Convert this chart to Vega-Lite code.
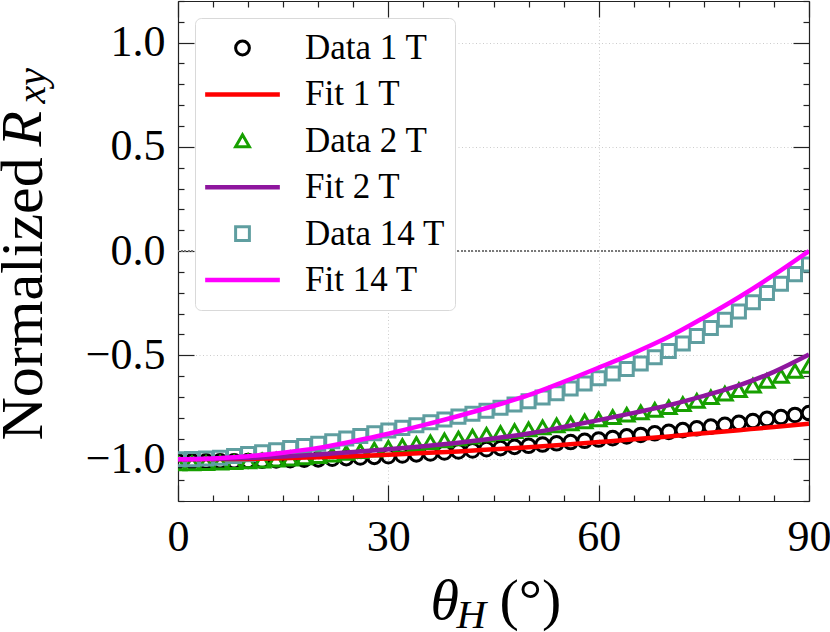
{
  "$schema": "https://vega.github.io/schema/vega-lite/v6.json",
  "width": 631,
  "height": 500,
  "autosize": {"type": "none"},
  "padding": {"left": 178, "top": 1, "right": 21, "bottom": 131},
  "background": "white",
  "data": {
    "values": [
      {"series": "Data 1 T", "theta": 0, "value": -1.010}, {"series": "Data 1 T", "theta": 2, "value": -1.010},
      {"series": "Data 1 T", "theta": 4, "value": -1.010}, {"series": "Data 1 T", "theta": 6, "value": -1.009},
      {"series": "Data 1 T", "theta": 8, "value": -1.009}, {"series": "Data 1 T", "theta": 10, "value": -1.008},
      {"series": "Data 1 T", "theta": 12, "value": -1.007}, {"series": "Data 1 T", "theta": 14, "value": -1.005},
      {"series": "Data 1 T", "theta": 16, "value": -1.004}, {"series": "Data 1 T", "theta": 18, "value": -1.002},
      {"series": "Data 1 T", "theta": 20, "value": -1.000}, {"series": "Data 1 T", "theta": 22, "value": -0.997},
      {"series": "Data 1 T", "theta": 24, "value": -0.994}, {"series": "Data 1 T", "theta": 26, "value": -0.991},
      {"series": "Data 1 T", "theta": 28, "value": -0.988}, {"series": "Data 1 T", "theta": 30, "value": -0.985},
      {"series": "Data 1 T", "theta": 32, "value": -0.981}, {"series": "Data 1 T", "theta": 34, "value": -0.976},
      {"series": "Data 1 T", "theta": 36, "value": -0.972}, {"series": "Data 1 T", "theta": 38, "value": -0.967},
      {"series": "Data 1 T", "theta": 40, "value": -0.962}, {"series": "Data 1 T", "theta": 42, "value": -0.957},
      {"series": "Data 1 T", "theta": 44, "value": -0.951}, {"series": "Data 1 T", "theta": 46, "value": -0.946},
      {"series": "Data 1 T", "theta": 48, "value": -0.940}, {"series": "Data 1 T", "theta": 50, "value": -0.935},
      {"series": "Data 1 T", "theta": 52, "value": -0.929}, {"series": "Data 1 T", "theta": 54, "value": -0.923},
      {"series": "Data 1 T", "theta": 56, "value": -0.917}, {"series": "Data 1 T", "theta": 58, "value": -0.911},
      {"series": "Data 1 T", "theta": 60, "value": -0.905}, {"series": "Data 1 T", "theta": 62, "value": -0.898},
      {"series": "Data 1 T", "theta": 64, "value": -0.890}, {"series": "Data 1 T", "theta": 66, "value": -0.883},
      {"series": "Data 1 T", "theta": 68, "value": -0.875}, {"series": "Data 1 T", "theta": 70, "value": -0.868},
      {"series": "Data 1 T", "theta": 72, "value": -0.860}, {"series": "Data 1 T", "theta": 74, "value": -0.851},
      {"series": "Data 1 T", "theta": 76, "value": -0.843}, {"series": "Data 1 T", "theta": 78, "value": -0.834},
      {"series": "Data 1 T", "theta": 80, "value": -0.825}, {"series": "Data 1 T", "theta": 82, "value": -0.816},
      {"series": "Data 1 T", "theta": 84, "value": -0.806}, {"series": "Data 1 T", "theta": 86, "value": -0.797},
      {"series": "Data 1 T", "theta": 88, "value": -0.787}, {"series": "Data 1 T", "theta": 90, "value": -0.778},

      {"series": "Data 2 T", "theta": 0, "value": -1.020}, {"series": "Data 2 T", "theta": 2, "value": -1.019},
      {"series": "Data 2 T", "theta": 4, "value": -1.018}, {"series": "Data 2 T", "theta": 6, "value": -1.016},
      {"series": "Data 2 T", "theta": 8, "value": -1.013}, {"series": "Data 2 T", "theta": 10, "value": -1.010},
      {"series": "Data 2 T", "theta": 12, "value": -1.006}, {"series": "Data 2 T", "theta": 14, "value": -1.002},
      {"series": "Data 2 T", "theta": 16, "value": -0.997}, {"series": "Data 2 T", "theta": 18, "value": -0.991},
      {"series": "Data 2 T", "theta": 20, "value": -0.985}, {"series": "Data 2 T", "theta": 22, "value": -0.977},
      {"series": "Data 2 T", "theta": 24, "value": -0.969}, {"series": "Data 2 T", "theta": 26, "value": -0.961},
      {"series": "Data 2 T", "theta": 28, "value": -0.953}, {"series": "Data 2 T", "theta": 30, "value": -0.945},
      {"series": "Data 2 T", "theta": 32, "value": -0.936}, {"series": "Data 2 T", "theta": 34, "value": -0.927},
      {"series": "Data 2 T", "theta": 36, "value": -0.918}, {"series": "Data 2 T", "theta": 38, "value": -0.909},
      {"series": "Data 2 T", "theta": 40, "value": -0.900}, {"series": "Data 2 T", "theta": 42, "value": -0.891},
      {"series": "Data 2 T", "theta": 44, "value": -0.882}, {"series": "Data 2 T", "theta": 46, "value": -0.874},
      {"series": "Data 2 T", "theta": 48, "value": -0.865}, {"series": "Data 2 T", "theta": 50, "value": -0.856},
      {"series": "Data 2 T", "theta": 52, "value": -0.847}, {"series": "Data 2 T", "theta": 54, "value": -0.837},
      {"series": "Data 2 T", "theta": 56, "value": -0.828}, {"series": "Data 2 T", "theta": 58, "value": -0.818},
      {"series": "Data 2 T", "theta": 60, "value": -0.808}, {"series": "Data 2 T", "theta": 62, "value": -0.797},
      {"series": "Data 2 T", "theta": 64, "value": -0.786}, {"series": "Data 2 T", "theta": 66, "value": -0.775},
      {"series": "Data 2 T", "theta": 68, "value": -0.763}, {"series": "Data 2 T", "theta": 70, "value": -0.750},
      {"series": "Data 2 T", "theta": 72, "value": -0.735}, {"series": "Data 2 T", "theta": 74, "value": -0.719},
      {"series": "Data 2 T", "theta": 76, "value": -0.702}, {"series": "Data 2 T", "theta": 78, "value": -0.685},
      {"series": "Data 2 T", "theta": 80, "value": -0.668}, {"series": "Data 2 T", "theta": 82, "value": -0.646},
      {"series": "Data 2 T", "theta": 84, "value": -0.623}, {"series": "Data 2 T", "theta": 86, "value": -0.600},
      {"series": "Data 2 T", "theta": 88, "value": -0.576}, {"series": "Data 2 T", "theta": 90, "value": -0.552},

      {"series": "Data 14 T", "theta": 0, "value": -1.000}, {"series": "Data 14 T", "theta": 2, "value": -0.999},
      {"series": "Data 14 T", "theta": 4, "value": -0.996}, {"series": "Data 14 T", "theta": 6, "value": -0.992},
      {"series": "Data 14 T", "theta": 8, "value": -0.984}, {"series": "Data 14 T", "theta": 10, "value": -0.975},
      {"series": "Data 14 T", "theta": 12, "value": -0.966}, {"series": "Data 14 T", "theta": 14, "value": -0.956},
      {"series": "Data 14 T", "theta": 16, "value": -0.946}, {"series": "Data 14 T", "theta": 18, "value": -0.936},
      {"series": "Data 14 T", "theta": 20, "value": -0.925}, {"series": "Data 14 T", "theta": 22, "value": -0.913},
      {"series": "Data 14 T", "theta": 24, "value": -0.900}, {"series": "Data 14 T", "theta": 26, "value": -0.888},
      {"series": "Data 14 T", "theta": 28, "value": -0.875}, {"series": "Data 14 T", "theta": 30, "value": -0.862},
      {"series": "Data 14 T", "theta": 32, "value": -0.849}, {"series": "Data 14 T", "theta": 34, "value": -0.836},
      {"series": "Data 14 T", "theta": 36, "value": -0.822}, {"series": "Data 14 T", "theta": 38, "value": -0.809},
      {"series": "Data 14 T", "theta": 40, "value": -0.795}, {"series": "Data 14 T", "theta": 42, "value": -0.781},
      {"series": "Data 14 T", "theta": 44, "value": -0.767}, {"series": "Data 14 T", "theta": 46, "value": -0.752},
      {"series": "Data 14 T", "theta": 48, "value": -0.737}, {"series": "Data 14 T", "theta": 50, "value": -0.721},
      {"series": "Data 14 T", "theta": 52, "value": -0.703}, {"series": "Data 14 T", "theta": 54, "value": -0.683},
      {"series": "Data 14 T", "theta": 56, "value": -0.660}, {"series": "Data 14 T", "theta": 58, "value": -0.636},
      {"series": "Data 14 T", "theta": 60, "value": -0.611}, {"series": "Data 14 T", "theta": 62, "value": -0.588},
      {"series": "Data 14 T", "theta": 64, "value": -0.566}, {"series": "Data 14 T", "theta": 66, "value": -0.540},
      {"series": "Data 14 T", "theta": 68, "value": -0.510}, {"series": "Data 14 T", "theta": 70, "value": -0.480},
      {"series": "Data 14 T", "theta": 72, "value": -0.444}, {"series": "Data 14 T", "theta": 74, "value": -0.408},
      {"series": "Data 14 T", "theta": 76, "value": -0.370}, {"series": "Data 14 T", "theta": 78, "value": -0.330},
      {"series": "Data 14 T", "theta": 80, "value": -0.290}, {"series": "Data 14 T", "theta": 82, "value": -0.246},
      {"series": "Data 14 T", "theta": 84, "value": -0.202}, {"series": "Data 14 T", "theta": 86, "value": -0.157},
      {"series": "Data 14 T", "theta": 88, "value": -0.111}, {"series": "Data 14 T", "theta": 90, "value": -0.065},

      {"series": "Fit 1 T", "theta": 0, "value": -1.000}, {"series": "Fit 1 T", "theta": 5, "value": -0.999},
      {"series": "Fit 1 T", "theta": 10, "value": -0.998}, {"series": "Fit 1 T", "theta": 15, "value": -0.995},
      {"series": "Fit 1 T", "theta": 20, "value": -0.990}, {"series": "Fit 1 T", "theta": 25, "value": -0.985},
      {"series": "Fit 1 T", "theta": 30, "value": -0.978}, {"series": "Fit 1 T", "theta": 35, "value": -0.970},
      {"series": "Fit 1 T", "theta": 40, "value": -0.962}, {"series": "Fit 1 T", "theta": 45, "value": -0.952},
      {"series": "Fit 1 T", "theta": 50, "value": -0.942}, {"series": "Fit 1 T", "theta": 55, "value": -0.930},
      {"series": "Fit 1 T", "theta": 60, "value": -0.917}, {"series": "Fit 1 T", "theta": 65, "value": -0.904},
      {"series": "Fit 1 T", "theta": 70, "value": -0.890}, {"series": "Fit 1 T", "theta": 75, "value": -0.875},
      {"series": "Fit 1 T", "theta": 80, "value": -0.860}, {"series": "Fit 1 T", "theta": 85, "value": -0.845},
      {"series": "Fit 1 T", "theta": 90, "value": -0.829},

      {"series": "Fit 2 T", "theta": 0, "value": -1.000}, {"series": "Fit 2 T", "theta": 5, "value": -0.998},
      {"series": "Fit 2 T", "theta": 10, "value": -0.994}, {"series": "Fit 2 T", "theta": 15, "value": -0.987},
      {"series": "Fit 2 T", "theta": 20, "value": -0.977}, {"series": "Fit 2 T", "theta": 25, "value": -0.965},
      {"series": "Fit 2 T", "theta": 30, "value": -0.952}, {"series": "Fit 2 T", "theta": 35, "value": -0.937},
      {"series": "Fit 2 T", "theta": 40, "value": -0.920}, {"series": "Fit 2 T", "theta": 45, "value": -0.900},
      {"series": "Fit 2 T", "theta": 50, "value": -0.876}, {"series": "Fit 2 T", "theta": 55, "value": -0.845},
      {"series": "Fit 2 T", "theta": 60, "value": -0.812}, {"series": "Fit 2 T", "theta": 65, "value": -0.777},
      {"series": "Fit 2 T", "theta": 70, "value": -0.740}, {"series": "Fit 2 T", "theta": 75, "value": -0.695},
      {"series": "Fit 2 T", "theta": 80, "value": -0.645}, {"series": "Fit 2 T", "theta": 85, "value": -0.580},
      {"series": "Fit 2 T", "theta": 90, "value": -0.497},

      {"series": "Fit 14 T", "theta": 0, "value": -1.000}, {"series": "Fit 14 T", "theta": 5, "value": -0.996},
      {"series": "Fit 14 T", "theta": 10, "value": -0.985}, {"series": "Fit 14 T", "theta": 15, "value": -0.968},
      {"series": "Fit 14 T", "theta": 20, "value": -0.945}, {"series": "Fit 14 T", "theta": 25, "value": -0.913},
      {"series": "Fit 14 T", "theta": 30, "value": -0.877}, {"series": "Fit 14 T", "theta": 35, "value": -0.836},
      {"series": "Fit 14 T", "theta": 40, "value": -0.792}, {"series": "Fit 14 T", "theta": 45, "value": -0.744},
      {"series": "Fit 14 T", "theta": 50, "value": -0.692}, {"series": "Fit 14 T", "theta": 55, "value": -0.628},
      {"series": "Fit 14 T", "theta": 60, "value": -0.560}, {"series": "Fit 14 T", "theta": 65, "value": -0.490},
      {"series": "Fit 14 T", "theta": 70, "value": -0.412}, {"series": "Fit 14 T", "theta": 75, "value": -0.320},
      {"series": "Fit 14 T", "theta": 80, "value": -0.222}, {"series": "Fit 14 T", "theta": 85, "value": -0.115},
      {"series": "Fit 14 T", "theta": 90, "value": 0.000}
    ]
  },
  "layer": [
    {
      "mark": {"type": "rule", "color": "#7a7a7a", "strokeDash": [1.5, 2], "strokeWidth": 1.2},
      "encoding": {
        "y": {"datum": 0, "type": "quantitative", "scale": {"domain": [-1.2, 1.2], "nice": false, "zero": false}, "axis": null}
      }
    },
    {
      "transform": [{"filter": "datum.series === 'Data 1 T'"}],
      "mark": {"type": "point", "filled": false, "opacity": 1, "strokeWidth": 3, "size": 185, "clip": true},
      "encoding": {
        "x": {
          "field": "theta", "type": "quantitative",
          "scale": {"domain": [0, 90], "nice": false, "zero": false},
          "axis": {
            "orient": "bottom",
            "values": [0, 5, 10, 15, 20, 25, 30, 35, 40, 45, 50, 55, 60, 65, 70, 75, 80, 85, 90],
            "grid": true,
            "gridOpacity": {"condition": {"test": "datum.value === 30 || datum.value === 60", "value": 1}, "value": 0},
            "tickSize": {"condition": {"test": "datum.value % 30 === 0", "value": -16}, "value": -6},
            "labelExpr": "datum.value % 30 === 0 ? datum.label : ''",
            "labelPadding": 30,
            "labelFontSize": 44,
            "labelFlush": false,
            "labelOverlap": false,
            "title": "θ",
            "titleFontStyle": "italic",
            "titleFontSize": 58,
            "titleX": 252,
            "titleY": 117,
            "titleAlign": "left",
            "titleBaseline": "alphabetic"
          }
        },
        "y": {
          "field": "value", "type": "quantitative",
          "scale": {"domain": [-1.2, 1.2], "nice": false, "zero": false},
          "axis": {
            "orient": "left",
            "values": [-1.2, -1.1, -1, -0.9, -0.8, -0.7, -0.6, -0.5, -0.4, -0.3, -0.2, -0.1, 0, 0.1, 0.2, 0.3, 0.4, 0.5, 0.6, 0.7, 0.8, 0.9, 1, 1.1, 1.2],
            "format": ".1f",
            "grid": true,
            "gridOpacity": {"condition": {"test": "abs(datum.value) < 1.05 && abs(datum.value * 2 - round(datum.value * 2)) < 0.001", "value": 1}, "value": 0},
            "tickSize": {"condition": {"test": "abs(datum.value) < 1.05 && abs(datum.value * 2 - round(datum.value * 2)) < 0.001", "value": -16}, "value": -6},
            "labelExpr": "abs(datum.value) < 1.05 && abs(datum.value * 2 - round(datum.value * 2)) < 0.001 ? datum.label : ''",
            "labelPadding": 29,
            "labelFontSize": 44,
            "labelFlush": false,
            "labelOverlap": false,
            "title": "Normalized",
            "titleFontSize": 60,
            "titleAngle": -90,
            "titleX": -137,
            "titleY": 439,
            "titleAlign": "left",
            "titleBaseline": "alphabetic"
          }
        },
        "color": {
          "field": "series", "type": "nominal",
          "scale": {
            "domain": ["Data 1 T", "Fit 1 T", "Data 2 T", "Fit 2 T", "Data 14 T", "Fit 14 T"],
            "range": ["#000000", "#ff0000", "#17a000", "#8e169e", "#5f9ea0", "#ff00ff"]
          },
          "legend": {"title": null}
        },
        "shape": {
          "field": "series", "type": "nominal",
          "scale": {
            "domain": ["Data 1 T", "Fit 1 T", "Data 2 T", "Fit 2 T", "Data 14 T", "Fit 14 T"],
            "range": ["circle", "M-5.2,-0.11H5.2V0.11H-5.2Z", "triangle-up", "M-5.2,-0.11H5.2V0.11H-5.2Z", "square", "M-5.2,-0.11H5.2V0.11H-5.2Z"]
          },
          "legend": {"title": null}
        }
      }
    },
    {
      "transform": [{"filter": "datum.series === 'Data 2 T'"}],
      "mark": {"type": "point", "filled": false, "opacity": 1, "strokeWidth": 3, "size": 215, "clip": true},
      "encoding": {
        "x": {
          "field": "theta", "type": "quantitative",
          "axis": {
            "orient": "bottom", "ticks": false, "labels": false, "domain": false, "grid": false,
            "title": "H", "titleFontStyle": "italic", "titleFontSize": 41,
            "titleX": 278, "titleY": 126, "titleAlign": "left", "titleBaseline": "alphabetic"
          }
        },
        "y": {
          "field": "value", "type": "quantitative",
          "axis": {
            "orient": "left", "ticks": false, "labels": false, "domain": false, "grid": false,
            "title": "R", "titleFontStyle": "italic", "titleFontSize": 58, "titleAngle": -90,
            "titleX": -138, "titleY": 145, "titleAlign": "left", "titleBaseline": "alphabetic"
          }
        },
        "color": {"field": "series", "type": "nominal", "legend": null},
        "shape": {"field": "series", "type": "nominal", "legend": null}
      }
    },
    {
      "transform": [{"filter": "datum.series === 'Data 14 T'"}],
      "mark": {"type": "point", "filled": false, "opacity": 1, "strokeWidth": 3, "size": 170, "clip": true},
      "encoding": {
        "x": {"field": "theta", "type": "quantitative", "axis": null},
        "y": {"field": "value", "type": "quantitative", "axis": null},
        "color": {"field": "series", "type": "nominal", "legend": null},
        "shape": {"field": "series", "type": "nominal", "legend": null}
      }
    },
    {
      "transform": [{"filter": "indexof(datum.series, 'Fit') === 0"}],
      "mark": {"type": "line", "strokeWidth": 4.5, "interpolate": "monotone", "clip": true},
      "encoding": {
        "x": {
          "field": "theta", "type": "quantitative",
          "axis": {
            "orient": "top",
            "values": [0, 5, 10, 15, 20, 25, 30, 35, 40, 45, 50, 55, 60, 65, 70, 75, 80, 85, 90],
            "grid": false,
            "labels": false,
            "tickSize": {"condition": {"test": "datum.value % 30 === 0", "value": -16}, "value": -6},
            "title": "(°)",
            "titleFontSize": 58,
            "titleAngle": 0,
            "titleX": 321,
            "titleY": 617,
            "titleAlign": "left",
            "titleBaseline": "alphabetic"
          }
        },
        "y": {
          "field": "value", "type": "quantitative",
          "axis": {
            "orient": "right",
            "values": [-1.2, -1.1, -1, -0.9, -0.8, -0.7, -0.6, -0.5, -0.4, -0.3, -0.2, -0.1, 0, 0.1, 0.2, 0.3, 0.4, 0.5, 0.6, 0.7, 0.8, 0.9, 1, 1.1, 1.2],
            "grid": false,
            "labels": false,
            "tickSize": {"condition": {"test": "abs(datum.value) < 1.05 && abs(datum.value * 2 - round(datum.value * 2)) < 0.001", "value": -16}, "value": -6},
            "title": "xy",
            "titleFontStyle": "italic",
            "titleFontSize": 40,
            "titleAngle": -90,
            "titleX": -765,
            "titleY": 102,
            "titleAlign": "left",
            "titleBaseline": "alphabetic"
          }
        },
        "color": {"field": "series", "type": "nominal", "legend": null}
      }
    }
  ],
  "resolve": {"axis": {"x": "independent", "y": "independent"}},
  "config": {
    "font": "Liberation Serif",
    "view": {"stroke": null},
    "legend": {
      "orient": "top-left",
      "direction": "vertical",
      "offset": 17,
      "padding": 10,
      "fillColor": "white",
      "strokeColor": "#d9d9d9",
      "cornerRadius": 6,
      "labelFont": "Liberation Serif",
      "labelFontSize": 35,
      "labelColor": "black",
      "symbolSize": 190,
      "symbolStrokeWidth": 3,
      "symbolOffset": 20,
      "labelOffset": 45,
      "rowPadding": 6.4,
      "clipHeight": 40,
      "symbolOpacity": 1
    },
    "axis": {
      "labelFont": "Liberation Serif",
      "titleFont": "Liberation Serif",
      "labelColor": "black",
      "titleColor": "black",
      "titleFontWeight": "normal",
      "domainColor": "#222222",
      "domainWidth": 1.2,
      "tickColor": "#222222",
      "tickWidth": 1.2,
      "gridColor": "#cccccc",
      "gridDash": [1, 2.5],
      "gridWidth": 1
    }
  }
}
